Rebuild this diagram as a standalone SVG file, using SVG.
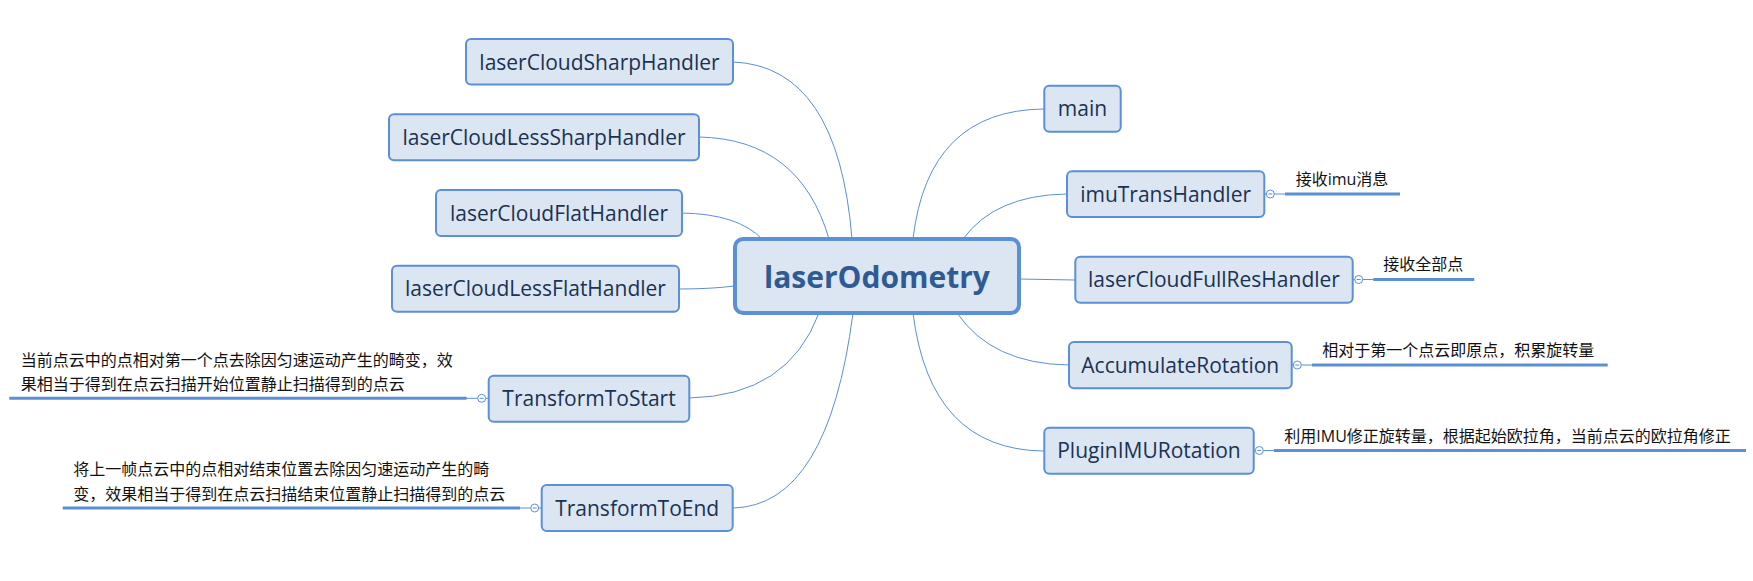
<svg xmlns="http://www.w3.org/2000/svg" width="1753" height="581" viewBox="0 0 1753 581">
<style>
.bg{fill:#ffffff}
.box{fill:#dce6f2;stroke:#5b8fd6;stroke-width:2}
.root{fill:#dce6f2;stroke:#5b8fd6;stroke-width:4}
.lbl{font-family:"Open Sans","Noto Sans","Liberation Sans",sans-serif;font-size:21px;fill:#1a3253;text-anchor:middle}
.rootlbl{font-family:"Open Sans","Noto Sans","Liberation Sans",sans-serif;font-size:30px;font-weight:bold;fill:#2f5a94;text-anchor:middle}
.note{font-family:"Open Sans","Noto Sans CJK SC",sans-serif;font-size:16px;fill:#111111}
.conn{fill:none;stroke:#5b8fd6;stroke-width:1}
.thin{fill:none;stroke:#5b8fd6;stroke-width:1}
.thick{fill:none;stroke:#5b8fd6;stroke-width:3}
.knob{fill:#ffffff;stroke:#5b8fd6;stroke-width:1}
</style>
<rect class="bg" x="0" y="0" width="1753" height="581"/>
<g id="connectors">
<path class="conn" d="M733,62 Q838,66 852,239"/>
<path class="conn" d="M699,137 Q800,139 829,239"/>
<path class="conn" d="M682,213 Q738,214 762,239"/>
<path class="conn" d="M679,289 Q710,289 735,286"/>
<path class="conn" d="M689,398 Q788,396 819,313"/>
<path class="conn" d="M733,508 Q828,506 853,313"/>
<path class="conn" d="M913,239 Q928,110 1044,109"/>
<path class="conn" d="M963,239 Q995,195 1067,194"/>
<path class="conn" d="M1019,279 L1075,280"/>
<path class="conn" d="M957,313 Q992,364 1069,365"/>
<path class="conn" d="M913,313 Q930,450 1044,451"/>
</g>
<g id="root">
<rect class="root" x="735" y="239" width="284" height="74" rx="8"/>
<text class="rootlbl" x="877" y="288">laserOdometry</text>
</g>
<g id="n-sharp">
<rect class="box" x="466" y="39" width="267" height="45.5" rx="5"/>
<text class="lbl" x="599.5" y="69.5">laserCloudSharpHandler</text>
</g>
<g id="n-lesssharp">
<rect class="box" x="389" y="114.3" width="310" height="46" rx="5"/>
<text class="lbl" x="544" y="145">laserCloudLessSharpHandler</text>
</g>
<g id="n-flat">
<rect class="box" x="436" y="190" width="246" height="46" rx="5"/>
<text class="lbl" x="559" y="220.5">laserCloudFlatHandler</text>
</g>
<g id="n-lessflat">
<rect class="box" x="392" y="265.7" width="287" height="46" rx="5"/>
<text class="lbl" x="535.5" y="296.2">laserCloudLessFlatHandler</text>
</g>
<g id="n-tostart">
<rect class="box" x="488.7" y="375.7" width="200.6" height="46" rx="5"/>
<text class="lbl" x="589" y="406.2">TransformToStart</text>
<line class="thin" x1="488.7" y1="398.3" x2="485.7" y2="398.3"/>
<circle class="knob" cx="481.7" cy="398.3" r="4"/>
<line class="thin" x1="479.7" y1="398.3" x2="483.7" y2="398.3"/>
<line class="thin" x1="477.7" y1="398.3" x2="466.7" y2="398.3"/>
<line class="thick" x1="9.3" y1="398.3" x2="466.7" y2="398.3"/>
<text class="note" x="20.7" y="366">当前点云中的点相对第一个点去除因匀速运动产生的畸变，效</text>
<text class="note" x="20.7" y="389.5">果相当于得到在点云扫描开始位置静止扫描得到的点云</text>
</g>
<g id="n-toend">
<rect class="box" x="541.7" y="485" width="191" height="46" rx="5"/>
<text class="lbl" x="637.2" y="515.5">TransformToEnd</text>
<line class="thin" x1="541.7" y1="508" x2="538.7" y2="508"/>
<circle class="knob" cx="534.7" cy="508" r="4"/>
<line class="thin" x1="532.7" y1="508" x2="536.7" y2="508"/>
<line class="thin" x1="530.7" y1="508" x2="520" y2="508"/>
<line class="thick" x1="62.7" y1="508" x2="520" y2="508"/>
<text class="note" x="73.3" y="475">将上一帧点云中的点相对结束位置去除因匀速运动产生的畸</text>
<text class="note" x="73.3" y="500">变，效果相当于得到在点云扫描结束位置静止扫描得到的点云</text>
</g>
<g id="n-main">
<rect class="box" x="1044.3" y="85.7" width="76.4" height="46" rx="5"/>
<text class="lbl" x="1082.5" y="116.2">main</text>
</g>
<g id="n-imu">
<rect class="box" x="1067" y="171.3" width="197.3" height="45.7" rx="5"/>
<text class="lbl" x="1165.6" y="201.7">imuTransHandler</text>
<line class="thin" x1="1264.3" y1="194" x2="1266.3" y2="194"/>
<circle class="knob" cx="1270.3" cy="194" r="4"/>
<line class="thin" x1="1268.3" y1="194" x2="1272.3" y2="194"/>
<line class="thin" x1="1274.3" y1="194" x2="1285" y2="194"/>
<line class="thick" x1="1285" y1="194" x2="1400" y2="194"/>
<text class="note" x="1295.7" y="185">接收imu消息</text>
</g>
<g id="n-fullres">
<rect class="box" x="1075.3" y="256.7" width="277.4" height="46" rx="5"/>
<text class="lbl" x="1214" y="287.2">laserCloudFullResHandler</text>
<line class="thin" x1="1352.7" y1="279.5" x2="1354.7" y2="279.5"/>
<circle class="knob" cx="1358.7" cy="279.5" r="4"/>
<line class="thin" x1="1356.7" y1="279.5" x2="1360.7" y2="279.5"/>
<line class="thin" x1="1362.7" y1="279.5" x2="1373.3" y2="279.5"/>
<line class="thick" x1="1373.3" y1="279.5" x2="1474.3" y2="279.5"/>
<text class="note" x="1383.3" y="270">接收全部点</text>
</g>
<g id="n-accum">
<rect class="box" x="1069" y="342" width="222.7" height="46.3" rx="5"/>
<text class="lbl" x="1180.3" y="372.7">AccumulateRotation</text>
<line class="thin" x1="1291.7" y1="365" x2="1293.3" y2="365"/>
<circle class="knob" cx="1297.3" cy="365" r="4"/>
<line class="thin" x1="1295.3" y1="365" x2="1299.3" y2="365"/>
<line class="thin" x1="1301.3" y1="365" x2="1312" y2="365"/>
<line class="thick" x1="1312" y1="365" x2="1607.7" y2="365"/>
<text class="note" x="1322.3" y="356">相对于第一个点云即原点，积累旋转量</text>
</g>
<g id="n-plugin">
<rect class="box" x="1044.3" y="427.7" width="209.4" height="46" rx="5"/>
<text class="lbl" x="1149" y="458.2">PluginIMURotation</text>
<line class="thin" x1="1253.7" y1="450.5" x2="1255.3" y2="450.5"/>
<circle class="knob" cx="1259.3" cy="450.5" r="4"/>
<line class="thin" x1="1257.3" y1="450.5" x2="1261.3" y2="450.5"/>
<line class="thin" x1="1263.3" y1="450.5" x2="1274" y2="450.5"/>
<line class="thick" x1="1274" y1="450.5" x2="1746" y2="450.5"/>
<text class="note" x="1284.3" y="441.7">利用IMU修正旋转量，根据起始欧拉角，当前点云的欧拉角修正</text>
</g>
</svg>
